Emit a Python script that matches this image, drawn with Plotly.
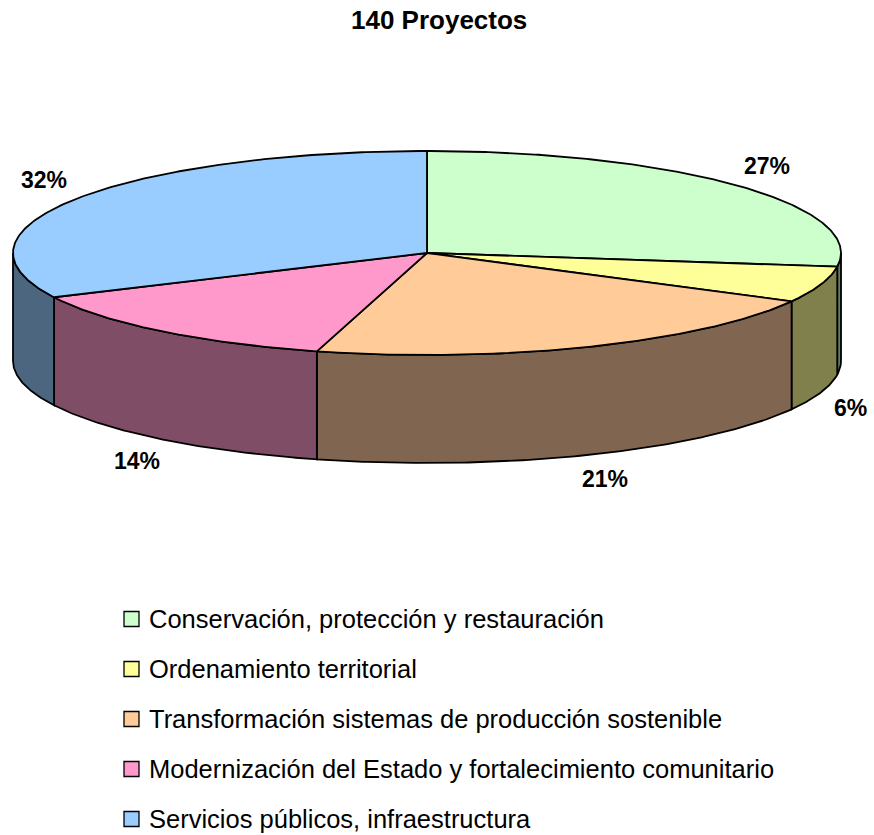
import numpy as np
import plotly.graph_objects as go

# ---- data ----
title_text = "140 Proyectos"
categories = [
    "Conservación, protección y restauración",
    "Ordenamiento territorial",
    "Transformación sistemas de producción sostenible",
    "Modernización del Estado y fortalecimiento comunitario",
    "Servicios públicos, infraestructura",
]
counts = [38, 8, 30, 19, 45]
top_colors = ["#CCFFCC", "#FFFF99", "#FFCC99", "#FF99CC", "#99CCFF"]
side_colors = ["#668066", "#80804D", "#806650", "#804D66", "#4D6680"]

# ---- geometry (layout constants, pixel-like axes) ----
W, H = 874, 835
cx, cy, rx, ry, depth = 427, 253, 414, 102, 108
FONT = "Arial, Liberation Sans, sans-serif"
LABEL_SIZE = 23
EDGE_W = 1.8

vals = np.array(counts, dtype=float)
fracs = vals / vals.sum()
ends = np.cumsum(fracs) * 360.0
starts = ends - fracs * 360.0


def pt(t, dy=0.0):
    r = np.radians(t)
    return cx + rx * np.sin(r), cy - ry * np.cos(r) + dy


def arc(a0, a1, dy=0.0, n=None):
    n = n or max(4, int(abs(a1 - a0) * 2))
    ts = np.linspace(a0, a1, n)
    xs, ys = pt(ts, dy)
    return list(xs), list(ys)


fig = go.Figure()

# side walls (front half only)
for i in range(len(counts)):
    b0, b1 = max(starts[i], 90.0), min(ends[i], 270.0)
    if b1 <= b0:
        continue
    xt, yt = arc(b0, b1)
    xb, yb = arc(b1, b0, depth)
    fig.add_trace(go.Scatter(
        x=xt + xb + [xt[0]], y=yt + yb + [yt[0]],
        mode="lines", fill="toself", fillcolor=side_colors[i],
        line=dict(color="black", width=EDGE_W), showlegend=False, hoverinfo="skip"))

# top faces
for i in range(len(counts)):
    xa, ya = arc(starts[i], ends[i])
    fig.add_trace(go.Scatter(
        x=[cx] + xa + [cx], y=[cy] + ya + [cy],
        mode="lines", fill="toself", fillcolor=top_colors[i],
        line=dict(color="black", width=EDGE_W), showlegend=False, hoverinfo="skip"))

# percentage labels (box corner touching an offset ellipse)
d = 15
for i in range(len(counts)):
    m = (starts[i] + ends[i]) / 2
    r = np.radians(m)
    s, c = np.sin(r), np.cos(r)
    txt = f"{round(fracs[i]*100):.0f}%"
    half_w = 0.5 * LABEL_SIZE * (0.556 * (len(txt) - 1) + 0.889)
    half_h = 0.45 * LABEL_SIZE
    lx = cx + (rx + d) * s + half_w * s
    ly = cy - (ry + d) * c - half_h * np.sign(c) + (depth if c < 0 else 0)
    fig.add_annotation(x=lx, y=ly, xref="x", yref="y", showarrow=False,
                       xanchor="center", yanchor="middle",
                       text=f"<b>{txt}</b>",
                       font=dict(family=FONT, size=LABEL_SIZE, color="black"))

# legend (manual: squares + texts)
leg_x0, leg_y0, leg_dy, sq = 124, 619, 50, 15
for i, name in enumerate(categories):
    yc = leg_y0 + i * leg_dy
    fig.add_shape(type="rect", xref="x", yref="y",
                  x0=leg_x0, x1=leg_x0 + sq, y0=yc - sq / 2, y1=yc + sq / 2,
                  fillcolor=top_colors[i], line=dict(color="black", width=1.3))
    fig.add_annotation(x=leg_x0 + sq + 8, y=yc, xref="x", yref="y",
                       xanchor="left", yanchor="middle", showarrow=False,
                       text=name, font=dict(family=FONT, size=25.5, color="black"))

fig.add_annotation(x=439, y=20, xref="x", yref="y",
                   xanchor="center", yanchor="middle",
                   showarrow=False, text=f"<b>{title_text}</b>",
                   font=dict(family=FONT, size=26, color="black"))

fig.update_layout(
    width=W, height=H,
    margin=dict(l=0, r=0, t=0, b=0),
    paper_bgcolor="white", plot_bgcolor="white",
    xaxis=dict(range=[0, W], visible=False, fixedrange=True),
    yaxis=dict(range=[H, 0], visible=False, fixedrange=True),
    showlegend=False,
)

fig.write_html("out.html", config={"displayModeBar": False},
               post_script="document.body.style.margin='0';")
